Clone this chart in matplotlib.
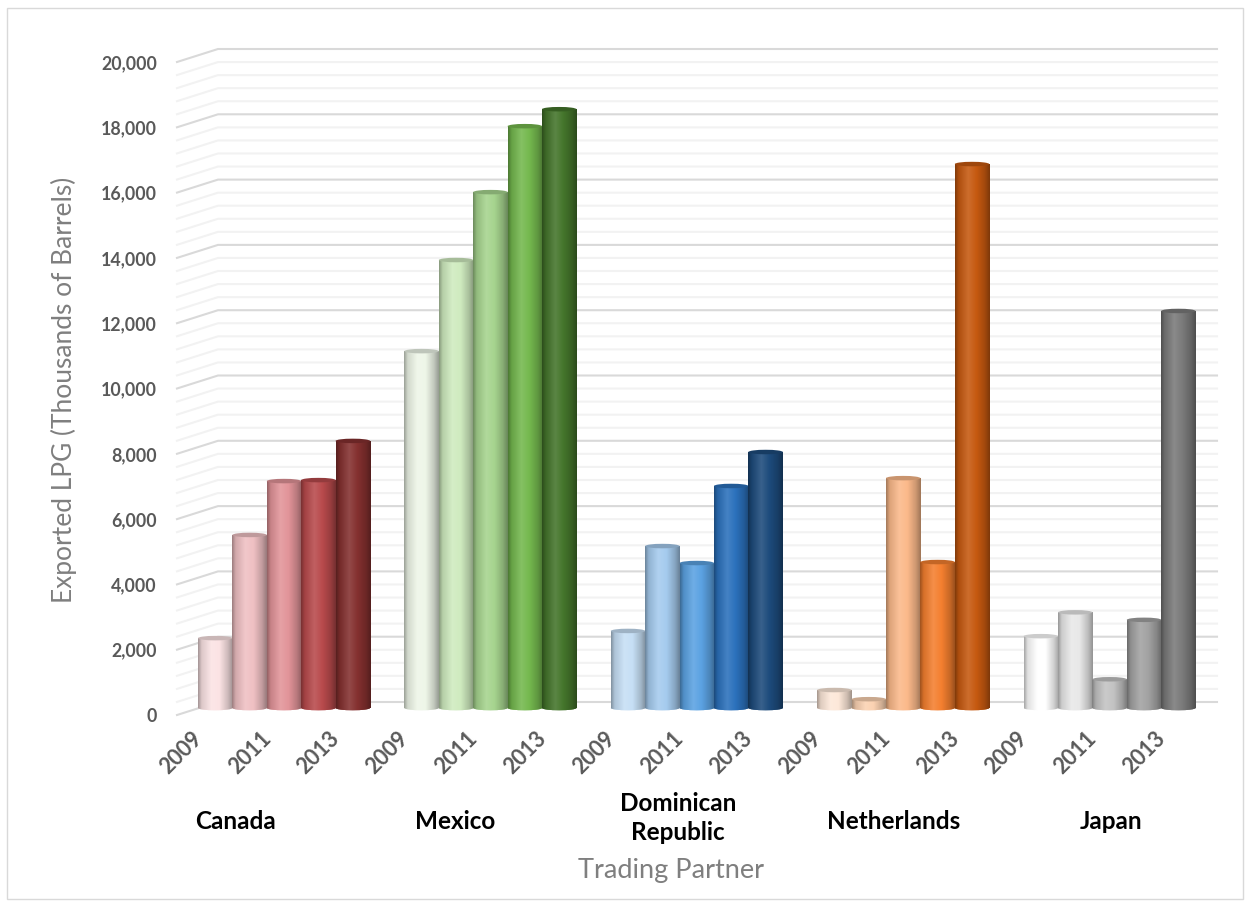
import matplotlib
matplotlib.use("Agg")
import matplotlib.pyplot as plt
import numpy as np
from matplotlib.colors import LinearSegmentedColormap, to_rgb
from matplotlib.patches import Ellipse, Rectangle

plt.rcParams["font.family"] = ["Lato", "DejaVu Sans"]

# exported LPG per year, thousands of barrels
canada = [2140, 5300, 6950, 6980, 8180]
mexico = [10930, 13720, 15800, 17820, 18340]
dominican = [2360, 4960, 4440, 6800, 7840]
netherlands = [550, 270, 7040, 4470, 16660]
japan = [2200, 2930, 880, 2700, 12160]
partners = ["Canada", "Mexico", "Dominican\nRepublic", "Netherlands", "Japan"]
year_labels = ["2009", "2011", "2013"]

canada_colors = ["#FBE3E4", "#EFC0C3", "#E29499", "#B84A4C", "#84302F"]
mexico_colors = ["#EEF6E8", "#CFEBBF", "#A6D48E", "#74B84E", "#44752B"]
dominican_colors = ["#C6DFF5", "#A5CBEE", "#5BA2E2", "#2B71BC", "#1D4B7C"]
netherlands_colors = ["#FDE8D9", "#FBD2B2", "#FBB98A", "#F47F2F", "#C65910"]
japan_colors = ["#FFFFFF", "#E8E8E8", "#C3C3C3", "#A2A2A2", "#7A7A7A"]

W, H = 1250, 905
SLOT = 34.4          # pixels per bar
X0 = 215.2           # pixel centre of the first bar
Y_FRONT0 = 715       # pixel row of value 0 on the front edge
PX_PER_UNIT = 653 / 20000
WALL_LEFT, WALL_RIGHT = 218, 1217
FRONT_LEFT = 177
DEPTH = 13 / PX_PER_UNIT       # back wall sits 13 px above the front edge
BAR_BASE = 7 / PX_PER_UNIT     # bars stand half way into the floor
CAP = 4.5 / PX_PER_UNIT        # height of the end ellipses
YEAR_SHIFT = -0.7              # year labels hang left of their bars


def slot_of(px):
    return (px - X0) / SLOT


fig = plt.figure(figsize=(W / 100, H / 100), dpi=100)
fig.patches.append(Rectangle((6.5 / W, 1 - 899 / H), 1236 / W, 891 / H,
                             transform=fig.transFigure, fc="none",
                             ec="#D9D9D9", lw=1))

ax = fig.add_axes([FRONT_LEFT / W, 1 - Y_FRONT0 / H,
                   (WALL_RIGHT - FRONT_LEFT) / W, 680 / H])
ax.patch.set_visible(False)
xlim = (slot_of(FRONT_LEFT), slot_of(WALL_RIGHT))
ylim = (0, 680 / PX_PER_UNIT)

# back wall and side wall gridlines, every 400 with a heavier one every 2000
for v in np.arange(0, 20001, 400):
    major = v % 2000 == 0
    color = "#D9D9D9" if major else "#F2F2F2"
    ax.plot([slot_of(FRONT_LEFT), slot_of(WALL_LEFT), slot_of(WALL_RIGHT)],
            [v, v + DEPTH, v + DEPTH], color=color, lw=1.5, zorder=1 if major else 0.5,
            solid_joinstyle="round", clip_on=False)


def shade(color):
    c = np.array(to_rgb(color))
    light = c + (1 - c) * 0.12
    return LinearSegmentedColormap.from_list(
        "cyl", [(0, c * 0.66), (0.1, c * 0.88), (0.38, light), (0.62, c),
                (0.86, c * 0.82), (1, c * 0.64)])


gradient = np.linspace(0, 1, 64).reshape(1, -1)
groups = [(canada, canada_colors), (mexico, mexico_colors),
          (dominican, dominican_colors), (netherlands, netherlands_colors),
          (japan, japan_colors)]

xticks, xticklabels = [], []
z = 2
for g, (values, colors) in enumerate(groups):
    start = g * 6
    xticks += [start + YEAR_SHIFT, start + 2 + YEAR_SHIFT, start + 4 + YEAR_SHIFT]
    xticklabels += year_labels
    for i, (v, color) in enumerate(zip(values, colors)):
        x = start + i
        z += 1
        bar = ax.bar(x, v, width=1.0, bottom=BAR_BASE, color=color, zorder=z)[0]
        cmap = shade(color)
        im = ax.imshow(gradient, extent=(x - 0.5, x + 0.5, BAR_BASE, BAR_BASE + v),
                       aspect="auto", cmap=cmap, zorder=z + 0.1, vmin=0, vmax=1)
        im.set_clip_path(bar)
        # rounded foot of the cylinder
        foot = Ellipse((x, BAR_BASE), 1.0, CAP, fc=color, ec="none", zorder=z + 0.05)
        ax.add_patch(foot)
        im2 = ax.imshow(gradient, extent=(x - 0.5, x + 0.5, BAR_BASE - CAP, BAR_BASE + CAP),
                        aspect="auto", cmap=cmap, zorder=z + 0.08, vmin=0, vmax=1)
        im2.set_clip_path(foot)
        c = np.array(to_rgb(color))
        ax.add_patch(Ellipse((x, BAR_BASE + v), 1.0, CAP, fc=c * 0.8, ec="none",
                             zorder=z + 0.2))

ax.set_xlim(xlim)
ax.set_ylim(ylim)
for s in ax.spines.values():
    s.set_visible(False)

ax.set_yticks(np.arange(0, 20001, 2000))
ax.set_yticklabels([f"{v:,}" for v in range(0, 20001, 2000)], fontsize=12.8,
                   fontweight="bold", color="#595959")
ax.tick_params(axis="y", length=0, pad=14.5)
ax.set_xticks(xticks)
ax.set_xticklabels(xticklabels, rotation=45, ha="right", rotation_mode="anchor",
                   fontsize=15.5, fontweight="bold", color="#595959")
ax.tick_params(axis="x", length=0, pad=9)

# partner names sit under each year group
partner_px = [236, 455, 678, 894, 1111]
partner_py = [821, 821, 818, 821, 821]
for px, py, name in zip(partner_px, partner_py, partners):
    fig.text(px / W, 1 - py / H, name, ha="center", va="center", fontsize=17.5,
             fontweight="bold", color="black", linespacing=1.3)

fig.text(671 / W, 1 - 870 / H, "Trading Partner", ha="center", va="center",
         fontsize=19.5, color="#7F7F7F")
fig.text(64 / W, 1 - 390 / H, "Exported LPG (Thousands of Barrels)", ha="center",
         va="center", rotation=90, fontsize=19, color="#7F7F7F")

fig.savefig("out.png", dpi=100)
